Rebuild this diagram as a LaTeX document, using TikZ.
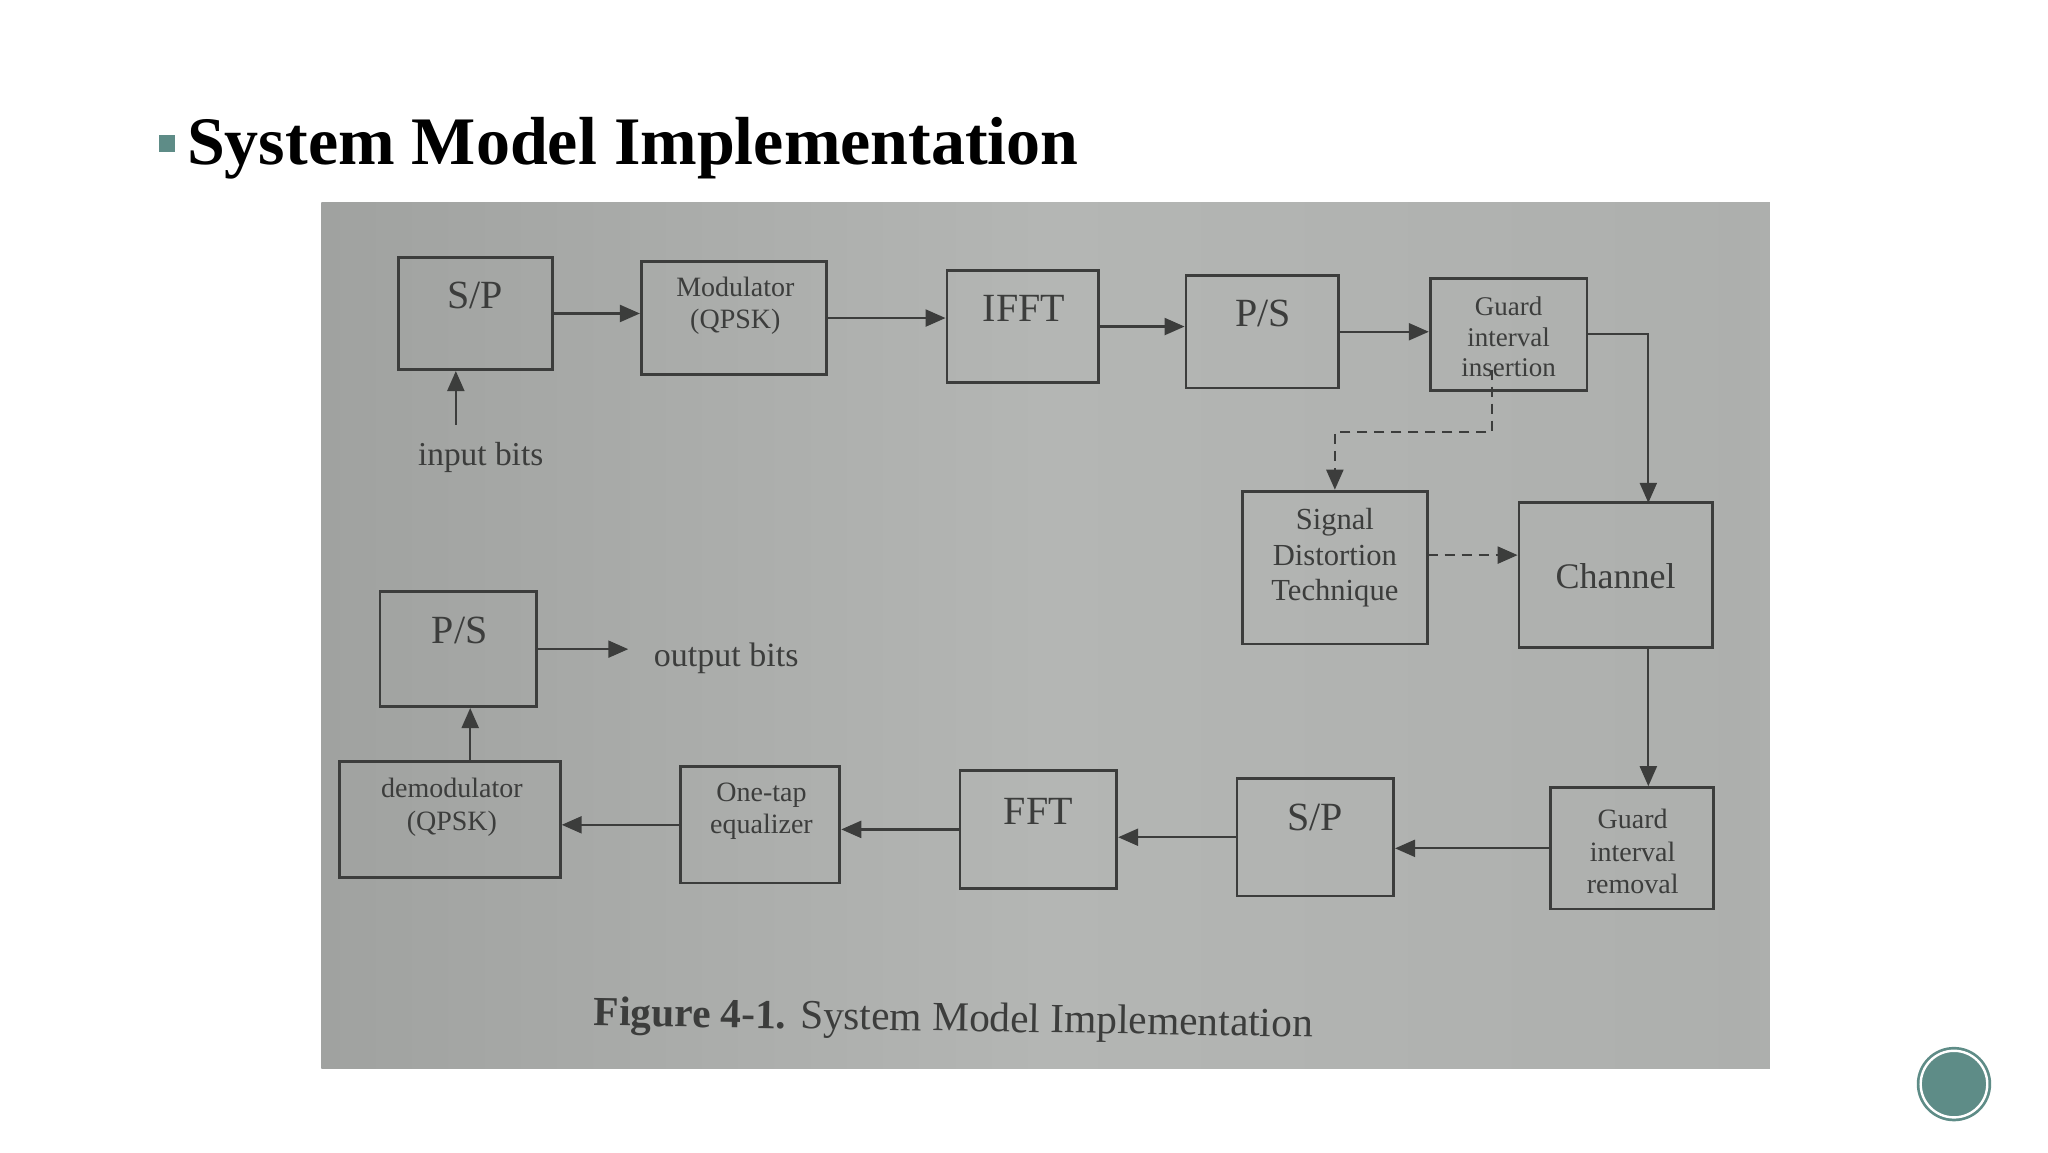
\documentclass[tikz,border=0pt]{standalone}
\usepackage{fontspec}
\setmainfont{Liberation Serif}
\usetikzlibrary{arrows.meta,fit,calc}
\definecolor{ink}{HTML}{3C3D3C}
\definecolor{teal}{HTML}{5E8C87}
\definecolor{photoL}{HTML}{A0A2A0}
\definecolor{photoM}{HTML}{B4B6B4}
\definecolor{photoR}{HTML}{ADAFAD}
\tikzset{
  blk/.style={draw=ink, line width=1.4pt, inner sep=0pt},
  big/.style={text=ink, font=\fontsize{20}{22}\selectfont, inner sep=0pt},
  small/.style={text=ink, font=\fontsize{14}{16}\selectfont, align=center, inner sep=0pt},
  arr/.style={draw=ink, line width=1.1pt, -{Triangle[length=10pt,width=8.5pt]}},
  darr/.style={arr, dash pattern=on 5pt off 3.5pt},
}
\begin{document}
\begin{tikzpicture}[x=0.65306pt,y=-0.65306pt]
\useasboundingbox (0,0) rectangle (1568,882);
\fill[white] (0,0) rectangle (1568,882);
% title
\fill[teal] (122,103) rectangle (134,116);
\node[anchor=base west, inner sep=0pt, font=\fontsize{34}{40}\selectfont\bfseries] (title) at (143,126) {System Model Implementation};
% photo background
\shade[left color=photoL, right color=photoR, middle color=photoM] (246,155) rectangle (1355,818);
% transmitter row
\node[blk, fit={(305,197) (423,283)}] (sp1) {};
\node[blk, fit={(491,200) (633,287)}] (mod) {};
\node[blk, fit={(725,207) (841,293)}] (ifft) {};
\node[blk, fit={(908,211) (1025,297)}] (ps1) {};
\node[blk, fit={(1095,213) (1215,299)}] (gii) {};
\node[blk, fit={(951,376) (1093,493)}] (sdt) {};
\node[blk, fit={(1163,385) (1311,496)}] (ch) {};
% receiver row
\node[blk, fit={(1187,603) (1312,696)}] (gir) {};
\node[blk, fit={(947,596) (1067,686)}] (sp2) {};
\node[blk, fit={(735,590) (855,680)}] (fft) {};
\node[blk, fit={(521,587) (643,676)}] (eq) {};
\node[blk, fit={(260,583) (429,672)}] (dem) {};
\node[blk, fit={(291,453) (411,541)}] (ps2) {};
% labels
\node[big] (tsp1) at (364,226) {S/P};
\node[small] (tmod) at (563,234) {Modulator\\(QPSK)};
\node[big] (tifft) at (784,236) {IFFT};
\node[big] (tps1) at (967,240) {P/S};
\node[small, font=\fontsize{13.5}{15.3}\selectfont] (tgii) at (1155,258) {Guard\\interval\\insertion};
\node[small, font=\fontsize{15.3}{17.6}\selectfont] (tsdt) at (1022,427) {Signal\\Distortion\\Technique};
\node[big, font=\fontsize{18}{20}\selectfont] (tch) at (1237,441) {Channel};
\node[small, font=\fontsize{14}{16.3}\selectfont] (tgir) at (1250,652) {Guard\\interval\\removal};
\node[big] (tsp2) at (1007,626) {S/P};
\node[big] (tfft) at (795,621) {FFT};
\node[small, font=\fontsize{14}{16.3}\selectfont] (teq) at (583,621) {One-tap\\equalizer};
\node[small, font=\fontsize{14}{16.3}\selectfont] (tdem) at (346,618) {demodulator\\(QPSK)};
\node[big] (tps2) at (352,483) {P/S};
\node[text=ink, font=\fontsize{16.7}{18}\selectfont, inner sep=0pt] (inb) at (368,350) {input bits};
\node[text=ink, font=\fontsize{17}{18}\selectfont, inner sep=0pt] (outb) at (556,504) {output bits};
\node[text=ink, font=\fontsize{20.7}{22}\selectfont, inner sep=0pt, rotate=-0.9] (cap) at (730,782) {\textbf{Figure 4-1.} System Model Implementation};
% connector coordinates
\coordinate (inarr) at (349,325);
\coordinate (outarr) at (481,497);
\coordinate (chtop) at (1262,385);
\coordinate (chbot) at (1262,496);
\coordinate (ds) at (1142,283);
\coordinate (dk) at (1142,331);
\coordinate (ds2) at (1093,425);
\coordinate (dm) at (360,583);
% connectors
\draw[arr] (inarr) -- (inarr |- sp1.south);
\draw[arr] (sp1.east) -- (sp1.east -| mod.west);
\draw[arr] (mod.east) -- (mod.east -| ifft.west);
\draw[arr] (ifft.east) -- (ifft.east -| ps1.west);
\draw[arr] (ps1.east) -- (ps1.east -| gii.west);
\draw[arr] (gii.east) -| (chtop);
\draw[darr] (ds) -- (dk) -| (sdt.north);
\draw[darr] (ds2) -- (ds2 -| ch.west);
\draw[arr] (chbot) -- (chbot |- gir.north);
\draw[arr] (gir.west) -- (gir.west -| sp2.east);
\draw[arr] (sp2.west) -- (sp2.west -| fft.east);
\draw[arr] (fft.west) -- (fft.west -| eq.east);
\draw[arr] (eq.west) -- (eq.west -| dem.east);
\draw[arr] (dm) -- (dm |- ps2.south);
\draw[arr] (ps2.east) -- (outarr);
% page badge
\fill[teal] (1496,830) circle[radius=28.5];
\draw[white, line width=1.2pt] (1496,830) circle[radius=25.5];
\end{tikzpicture}
\end{document}
